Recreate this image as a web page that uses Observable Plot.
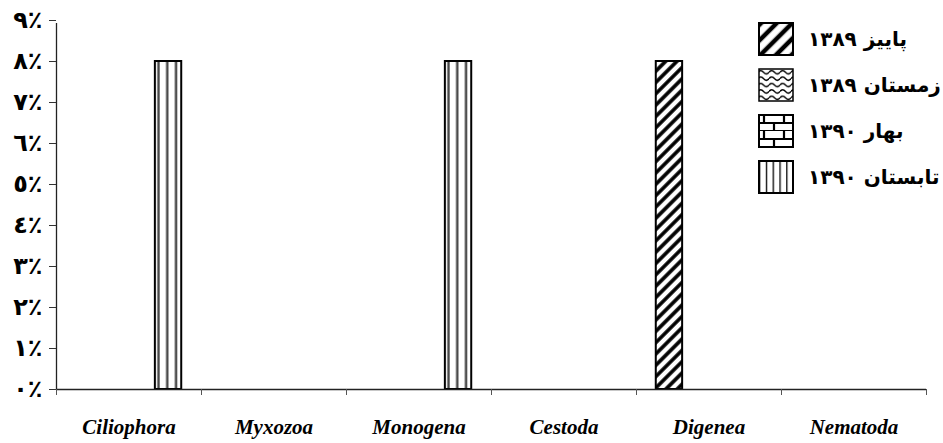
<!DOCTYPE html>
<html>
<head>
<meta charset="utf-8">
<script src="https://cdn.jsdelivr.net/npm/d3@7"></script>
<script src="https://cdn.jsdelivr.net/npm/@observablehq/plot@0.6"></script>
<style>
  html, body { margin: 0; padding: 0; background: #fff; }
  #wrap { position: relative; width: 943px; height: 443px; }
  #legend { position: absolute; left: 758px; top: 22px; }
  .row { position: absolute; left: 0; height: 34px; white-space: nowrap; }
  .row svg { position: absolute; left: 0; top: 0; }
  .row span { position: absolute; left: 50px; top: 0; line-height: 34px; font-family: "DejaVu Sans", sans-serif; font-weight: bold; font-size: 20px; color: #000; direction: rtl; unicode-bidi: isolate; }
</style>
</head>
<body>
<div id="wrap"><div id="chart"></div><div id="legend"></div></div>
<script>
// ---- data ----
const categories = ["Ciliophora", "Myxozoa", "Monogena", "Cestoda", "Digenea", "Nematoda"];
const seriesNames = ["پاییز ١٣٨٩", "زمستان ١٣٨٩", "بهار ١٣٩٠", "تابستان ١٣٩٠"];
const autumn1389 = [0, 0, 0, 0, 8, 0];
const winter1389 = [0, 0, 0, 0, 0, 0];
const spring1390 = [0, 0, 0, 0, 0, 0];
const summer1390 = [8, 0, 8, 0, 0, 0];
const yTicks = [0, 1, 2, 3, 4, 5, 6, 7, 8, 9];
const yTickLabels = ["٠٪", "١٪", "٢٪", "٣٪", "٤٪", "٥٪", "٦٪", "٧٪", "٨٪", "٩٪"];

const seriesValues = [autumn1389, winter1389, spring1390, summer1390];
const patternIds = ["pHatch", "pWave", "pBrick", "pVert"];

// Excel-like layout: gap width 150%
const barFrac = 1 / 5.5;
const gapFrac = 0.75 / 5.5;

const defsMark = () => {
  const defs = d3.create("svg:defs");
  const h = defs.append("pattern").attr("id", "pHatch").attr("patternUnits", "userSpaceOnUse")
    .attr("width", 8).attr("height", 8).attr("patternTransform", "rotate(45)");
  h.append("rect").attr("width", 8).attr("height", 8).attr("fill", "#fff");
  h.append("line").attr("x1", 2).attr("x2", 2).attr("y1", 0).attr("y2", 8).attr("stroke", "#000").attr("stroke-width", 3.6);
  const w = defs.append("pattern").attr("id", "pWave").attr("patternUnits", "userSpaceOnUse").attr("width", 12).attr("height", 7);
  w.append("rect").attr("width", 12).attr("height", 7).attr("fill", "#fff");
  w.append("path").attr("d", "M0 3.5 Q3 0 6 3.5 T12 3.5").attr("fill", "none").attr("stroke", "#000").attr("stroke-width", 1.2);
  const b = defs.append("pattern").attr("id", "pBrick").attr("patternUnits", "userSpaceOnUse").attr("width", 18).attr("height", 16);
  b.append("rect").attr("width", 18).attr("height", 16).attr("fill", "#fff");
  b.append("path").attr("d", "M0 1H18M0 9H18M4.5 1V9M13.5 9V16").attr("fill", "none").attr("stroke", "#000").attr("stroke-width", 2);
  const v = defs.append("pattern").attr("id", "pVert").attr("patternUnits", "objectBoundingBox").attr("width", 1 / 3).attr("height", 1);
  v.append("rect").attr("width", 20).attr("height", 2000).attr("fill", "#fff");
  v.append("line").attr("x1", 3.6).attr("x2", 3.6).attr("y1", 0).attr("y2", 2000).attr("stroke", "#444").attr("stroke-width", 2.4);
  return defs.node();
};

const barMarks = seriesValues.map((vals, si) => {
  const rows = vals.map((v, ci) => ({ci, si, value: v})).filter(d => d.value > 0);
  return Plot.rectY(rows, {
    x1: d => d.ci + gapFrac + d.si * barFrac,
    x2: d => d.ci + gapFrac + (d.si + 1) * barFrac,
    y1: 0,
    y2: "value",
    fill: `url(#${patternIds[si]})`,
    stroke: "#000",
    strokeWidth: 2
  });
});

const chart = Plot.plot({
  width: 943,
  height: 443,
  marginLeft: 56,
  marginRight: 17,
  marginTop: 20,
  marginBottom: 54,
  style: {background: "#fff", color: "#000", overflow: "visible"},
  x: {domain: [0, categories.length], axis: null},
  y: {domain: [0, 9], axis: null},
  marks: [
    defsMark,
    ...barMarks,
    Plot.ruleY([0], {x1: 0, x2: categories.length, stroke: "#222", strokeWidth: 1.3}),
    Plot.ruleX([0], {y1: 0, y2: 9, insetBottom: -3, stroke: "#222", strokeWidth: 1.3}),
    Plot.axisY(yTicks, {
      anchor: "left",
      tickSize: 7,
      tickPadding: 7,
      stroke: "#333",
      tickFormat: d => yTickLabels[yTicks.indexOf(d)],
      fontFamily: "DejaVu Sans",
      fontWeight: "bold",
      fontSize: 24,
      label: null
    }),
    Plot.axisX(d3.range(categories.length + 1), {
      anchor: "bottom",
      tickSize: 6,
      stroke: "#555",
      tickFormat: () => "",
      label: null
    }),
    Plot.axisX(categories.map((_, i) => i + 0.5), {
      anchor: "bottom",
      tickSize: 0,
      tickPadding: 30,
      tickFormat: d => categories[Math.floor(d)],
      fontFamily: "Liberation Serif",
      fontWeight: "bold",
      fontStyle: "italic",
      fontSize: 21,
      label: null
    })
  ]
});
document.getElementById("chart").appendChild(chart);

// ---- legend ----
const swatchSvg = [
  `<defs><pattern id="lHatch" patternUnits="userSpaceOnUse" width="11" height="11" patternTransform="rotate(45)"><rect width="11" height="11" fill="#fff"/><line x1="3" x2="3" y1="0" y2="11" stroke="#000" stroke-width="4.5"/></pattern></defs><rect x="1" y="1" width="34" height="32" fill="url(#lHatch)" stroke="#000" stroke-width="2"/>`,
  `<defs><pattern id="lWave" patternUnits="userSpaceOnUse" width="11" height="6.4" y="1"><rect width="11" height="6.4" fill="#fff"/><path d="M0 3.2 Q2.75 -0.2 5.5 3.2 T11 3.2" fill="none" stroke="#000" stroke-width="1.4"/></pattern></defs><rect x="1" y="1" width="34" height="32" fill="url(#lWave)" stroke="#000" stroke-width="1.5"/>`,
  `<defs><pattern id="lBrick" patternUnits="userSpaceOnUse" width="20" height="16" x="1" y="1"><rect width="20" height="16" fill="#fff"/><path d="M0 8H20M0 16H20M5 0V8M15 8V16" fill="none" stroke="#000" stroke-width="2.2"/></pattern></defs><rect x="1" y="1" width="34" height="32" fill="url(#lBrick)" stroke="#000" stroke-width="2"/>`,
  `<defs><pattern id="lVert" patternUnits="userSpaceOnUse" width="6.8" height="34" x="1"><rect width="6.8" height="34" fill="#fff"/><line x1="0" x2="0" y1="0" y2="34" stroke="#000" stroke-width="2.6"/></pattern></defs><rect x="1" y="1" width="34" height="32" fill="url(#lVert)" stroke="#000" stroke-width="2"/>`
];
const legend = document.getElementById("legend");
seriesNames.forEach((name, i) => {
  const row = document.createElement("div");
  row.className = "row";
  row.style.top = (i * 46) + "px";
  row.innerHTML = `<svg width="36" height="34" viewBox="0 0 36 34">${swatchSvg[i]}</svg><span dir="rtl">${name}</span>`;
  legend.appendChild(row);
});
</script>
</body>
</html>
